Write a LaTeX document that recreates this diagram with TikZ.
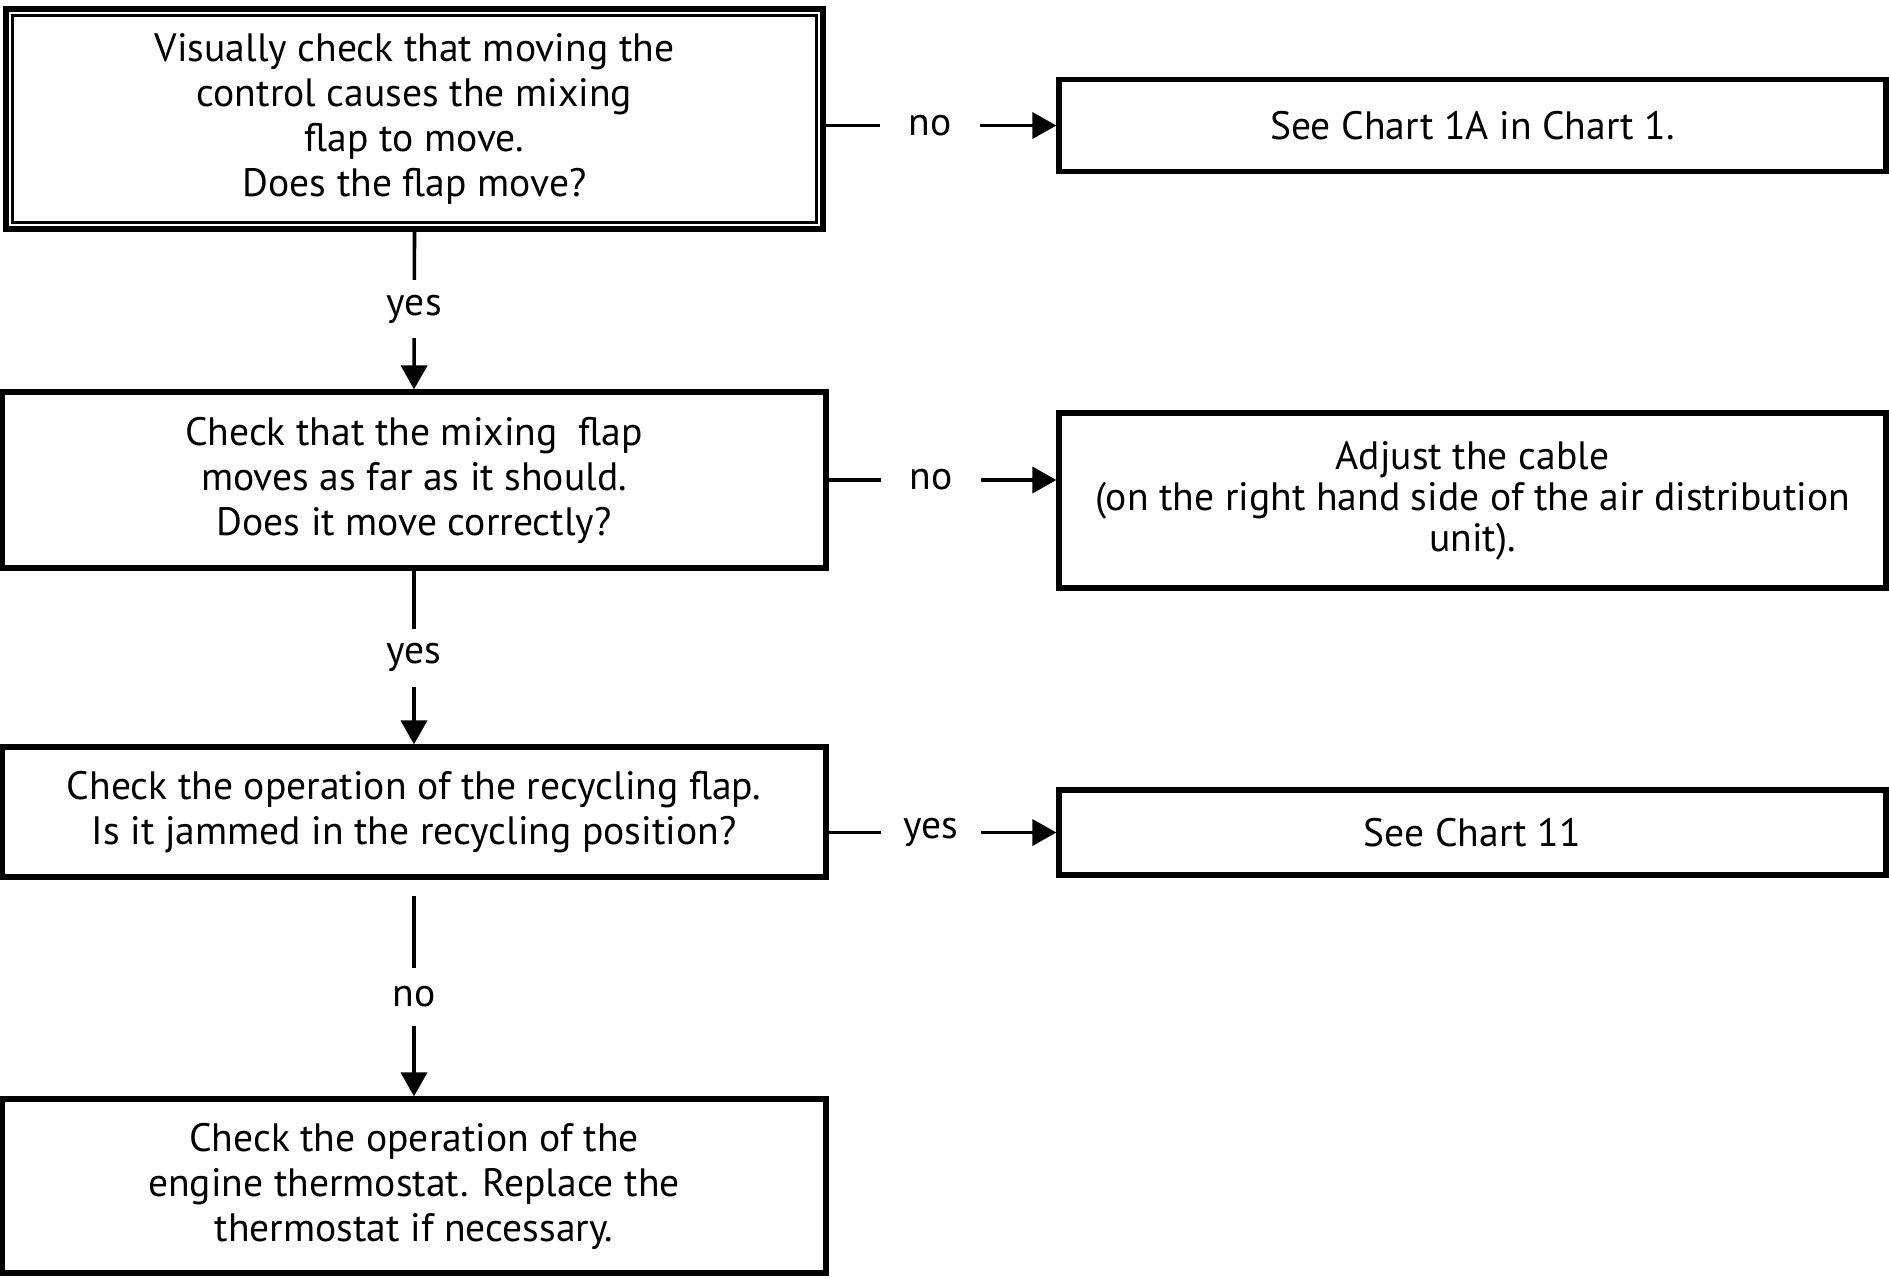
\documentclass[tikz,border=0pt]{standalone}
\usepackage{fontspec}
\setmainfont{PT Sans}
\usetikzlibrary{arrows.meta}
\begin{document}
\begin{tikzpicture}[x=0.25pt,y=-0.25pt,
  box/.style={draw=black,line width=1.3pt,align=center,inner sep=0pt,
    font=\fontsize{9.9}{11.25}\selectfont},
  conn/.style={line width=0.9pt,-{Triangle[length=6pt,width=6.5pt]}},
  hlab/.style={fill=white,inner sep=0pt,minimum width=25pt,minimum height=8pt,
    font=\fontsize{9.9}{11.25}\selectfont},
  vlab/.style={fill=white,inner sep=0pt,minimum width=12pt,minimum height=14.5pt,
    font=\fontsize{9.9}{11.25}\selectfont}]
\useasboundingbox (0,0) rectangle (1889,1278);
\node[box,line width=1.6pt,minimum width=204.25pt,minimum height=55pt] (b1) at (414.5,119)
  {Visually check that moving the\\control causes the mixing\\flap to move.\\Does the flap move?};
\draw[line width=0.6pt] ([shift={(2.4pt,-2.4pt)}]b1.north west) rectangle ([shift={(-2.4pt,2.4pt)}]b1.south east);
\node[box,minimum width=206.75pt,minimum height=23pt] (b2) at (1472.5,125.5)
  {See Chart 1A in Chart 1.};
\node[box,minimum width=206pt,minimum height=44pt] (b3) at (414,480)
  {Check that the mixing\ \ flap\\moves as far as it should.\\Does it move correctly?};
\node[box,minimum width=206.75pt,minimum height=43.75pt,
  font=\fontsize{9.9}{10.25}\selectfont] (b4) at (1472.5,500.5)
  {Adjust the cable\\(on the right hand side of the air distribution\\unit).};
\node[box,minimum width=206pt,minimum height=32.5pt] (b5) at (414,812)
  {Check the operation of the recycling flap.\\Is it jammed in the recycling position?};
\node[box,minimum width=206.75pt,minimum height=21.25pt] (b6) at (1472.5,832.5)
  {See Chart 11};
\node[box,minimum width=206pt,minimum height=43.5pt] (b7) at (414,1186)
  {Check the operation of the\\engine thermostat. Replace the\\thermostat if necessary.};
% horizontal connectors
\draw[conn] (b1.east |- b2.west) -- node[hlab,pos=0.45] {no} (b2.west);
\draw[conn] (b3.east) -- node[hlab,pos=0.45] {no} (b3.east -| b4.west);
\draw[conn] (b5.east |- b6.west) -- node[hlab,pos=0.45] {yes} (b6.west);
% vertical connectors
\draw[conn] (b1.south) -- node[vlab,pos=0.49] {yes} (b3.north);
\draw[conn] (b3.south) -- node[vlab,pos=0.5] {yes} (b5.north);
\draw[conn,shorten <=4pt] (b5.south) -- node[vlab,pos=0.54] {no} (b7.north);
\end{tikzpicture}
\end{document}
